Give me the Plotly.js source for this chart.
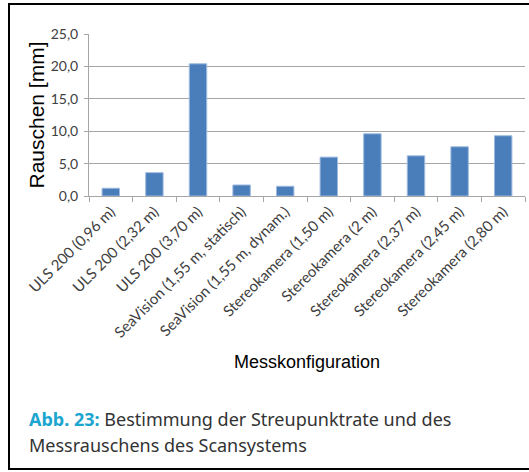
<!DOCTYPE html>
<html>
<head>
<meta charset="utf-8">
<script src="https://cdn.plot.ly/plotly-3.0.1.min.js"></script>
<style>html,body{margin:0;padding:0;background:#fff;}#chart{width:529px;height:472px;}</style>
</head>
<body>
<div id="chart"></div>
<script>
const categories = [
  "ULS 200 (0,96 m)",
  "ULS 200 (2,32 m)",
  "ULS 200 (3,70 m)",
  "SeaVision (1,55 m, statisch)",
  "SeaVision (1,55 m, dynam.)",
  "Stereokamera (1,50 m)",
  "Stereokamera (2 m)",
  "Stereokamera (2,37 m)",
  "Stereokamera (2,45 m)",
  "Stereokamera (2,80 m)"
];
const rauschen = [1.2, 3.6, 20.4, 1.7, 1.5, 6.0, 9.6, 6.2, 7.6, 9.3];
const yTickVals = [0, 5, 10, 15, 20, 25];
const yTitle = "Rauschen [mm]";
const xTitle = "Messkonfiguration";
const captionLabel = "Abb. 23:";
const captionLine1 = "Bestimmung der Streupunktrate und des";
const captionLine2 = "Messrauschens des Scansystems";

const W = 529, H = 472;
const L = 89, R = 4, T = 34, B = 276;
const pw = W - L - R, ph = H - T - B;
const px = x => (x - L) / pw;
const py = y => (H - B - y) / ph;

const trace = {
  type: 'bar',
  x: categories,
  y: rauschen,
  marker: {color: '#4a7ebb', line: {color: '#9fbbe0', width: 1}},
  hoverinfo: 'skip'
};

const tickFont = {family: 'Lato, "Open Sans", sans-serif', size: 15, color: '#404040'};
const yTickFont = {family: 'Lato, "Open Sans", sans-serif', size: 14, color: '#404040'};
const capFont = {family: '"Noto Sans", "Open Sans", sans-serif', size: 18, color: '#333333'};

const layout = {
  width: W, height: H,
  margin: {l: L, r: R, t: T, b: B},
  paper_bgcolor: '#ffffff',
  plot_bgcolor: '#ffffff',
  separators: ',.',
  showlegend: false,
  bargap: 0.6,
  xaxis: {
    type: 'category',
    tickangle: -45,
    tickfont: tickFont,
    showline: true, linecolor: '#a6a6a6', linewidth: 1,
    ticks: 'outside', ticklen: 5, tickcolor: '#a6a6a6', tickson: 'boundaries',
    showgrid: false,
    automargin: false,
    title: {text: xTitle, font: {family: '"Liberation Sans", Arial, sans-serif', size: 18, color: '#000'}, standoff: 15}
  },
  yaxis: {
    range: [0, 25],
    tickvals: yTickVals,
    tickformat: '.1f',
    tickfont: yTickFont,
    ticklabelstandoff: 3,
    showline: true, linecolor: '#a6a6a6', linewidth: 1,
    ticks: 'outside', ticklen: 4, tickcolor: '#a6a6a6',
    showgrid: true, gridcolor: '#a6a6a6', gridwidth: 1,
    zeroline: false,
    automargin: false,
    title: {text: yTitle, font: {family: '"Liberation Sans", Arial, sans-serif', size: 21, color: '#000'}, standoff: 0}
  },
  shapes: [{
    type: 'path', xref: 'paper', yref: 'paper',
    path: 'M ' + px(620) + ',' + py(4) + ' L ' + px(9) + ',' + py(4) + ' L ' + px(9) + ',' + py(469) + ' L ' + px(620) + ',' + py(469),
    line: {color: '#000', width: 2}, layer: 'below'
  }],
  annotations: [
    {
      xref: 'paper', yref: 'paper', x: px(27), y: py(405), xanchor: 'left', yanchor: 'top',
      align: 'left', showarrow: false,
      text: '<b><span style="color:#1ba5cf">' + captionLabel + '</span></b> ' + captionLine1,
      font: capFont
    },
    {
      xref: 'paper', yref: 'paper', x: px(27), y: py(431), xanchor: 'left', yanchor: 'top',
      align: 'left', showarrow: false,
      text: captionLine2,
      font: capFont
    }
  ]
};

Plotly.newPlot('chart', [trace], layout, {displayModeBar: false, staticPlot: true});
</script>
</body>
</html>
